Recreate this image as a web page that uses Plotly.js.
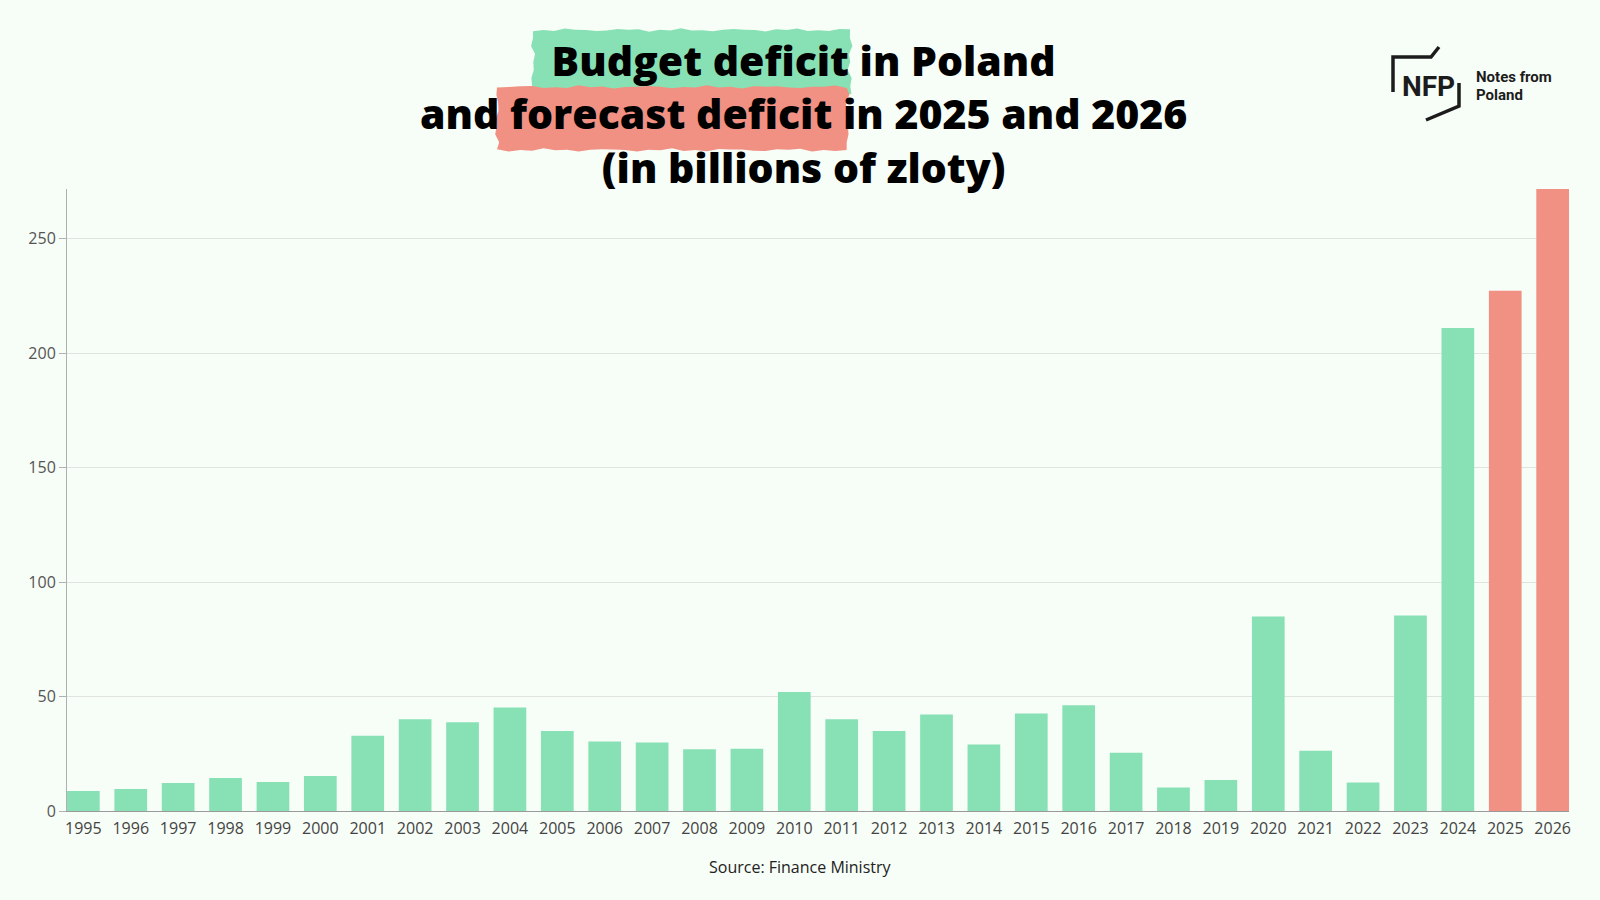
<!DOCTYPE html>
<html>
<head>
<meta charset="utf-8">
<script src="https://cdn.plot.ly/plotly-3.0.1.min.js"></script>
<style>
  html, body { margin: 0; padding: 0; background: #f7fdf7; }
  #chart { width: 1600px; height: 900px; }
</style>
</head>
<body>
<div id="chart"></div>
<script>
const years = ['1995', '1996', '1997', '1998', '1999', '2000', '2001', '2002', '2003', '2004',
  '2005', '2006', '2007', '2008', '2009', '2010', '2011', '2012', '2013', '2014',
  '2015', '2016', '2017', '2018', '2019', '2020', '2021', '2022', '2023', '2024',
  '2025', '2026'];

// actual deficit, billions of zloty
const actualYears = years.slice(0, 30);
const actualDeficit = [8.7, 9.6, 12.2, 14.4, 12.7, 15.3, 32.9, 40.1, 38.8, 45.2,
  34.9, 30.4, 29.9, 27.0, 27.2, 52.0, 40.1, 34.9, 42.1, 29.1,
  42.6, 46.2, 25.4, 10.3, 13.5, 85.0, 26.3, 12.4, 85.4, 211.0];

// forecast
const forecastYears = ['2025', '2026'];
const forecastDeficit = [227.3, 271.7];

const yTicks = [0, 50, 100, 150, 200, 250];

const GREEN = '#88e1b5';
const RED = '#f09183';
const W = 1600, H = 900;
const M = { l: 67, r: 31, t: 189, b: 89 };

// pixel -> paper coords (for the title decoration and logo)
const px = x => (x - M.l) / (W - M.l - M.r);
const py = y => (H - M.b - y) / (H - M.t - M.b);

// rough "brush stroke" rectangle behind the title words
function brushPath(x0, x1, y0, y1, k) {
  const pts = [];
  const n = 30;
  const wob = i => 1.8 * Math.sin(i * 2.3 + k) * Math.cos(i * 1.1 + k * 0.5);
  for (let i = 0; i <= n; i++) pts.push([x0 + (x1 - x0) * i / n, y0 + wob(i)]);
  for (let i = 1; i <= 8; i++) pts.push([x1 + 1.5 * wob(i + 20), y0 + (y1 - y0) * i / 8]);
  for (let i = n - 1; i >= 0; i--) pts.push([x0 + (x1 - x0) * i / n, y1 + wob(i + 40)]);
  for (let i = 7; i >= 1; i--) pts.push([x0 + 1.5 * wob(i + 60), y0 + (y1 - y0) * i / 8]);
  return 'M' + pts.map(p => px(p[0]).toFixed(5) + ',' + py(p[1]).toFixed(5)).join(' L') + ' Z';
}

const traces = [
  {
    type: 'bar',
    x: actualYears,
    y: actualDeficit,
    name: 'Budget deficit',
    marker: { color: GREEN, line: { width: 0 } },
    hovertemplate: '%{x}: %{y}<extra></extra>'
  },
  {
    type: 'bar',
    x: forecastYears,
    y: forecastDeficit,
    name: 'Forecast deficit',
    marker: { color: RED, line: { width: 0 } },
    hovertemplate: '%{x}: %{y}<extra></extra>'
  }
];

const titleFont = { family: 'Open Sans, sans-serif', size: 41, color: '#000', weight: 800 };
const logoFont = { family: 'Liberation Sans Narrow, Roboto, sans-serif', color: '#1c1c1c', weight: 700 };
const logoLine = { color: '#1c1c1c', width: 3.5 };

const layout = {
  width: W,
  height: H,
  margin: M,
  paper_bgcolor: '#f7fdf7',
  plot_bgcolor: '#f7fdf7',
  showlegend: false,
  barmode: 'overlay',
  bargap: 0.31,
  font: { family: 'Open Sans, sans-serif', color: '#444' },
  xaxis: {
    type: 'category',
    categoryorder: 'array',
    categoryarray: years,
    range: [-0.345, years.length - 1 + 0.345],
    showline: true,
    linecolor: '#9a9a9a',
    linewidth: 1,
    showgrid: false,
    zeroline: false,
    ticks: '',
    ticklabelstandoff: 3,
    tickfont: { size: 16, color: '#444' },
    fixedrange: true
  },
  yaxis: {
    range: [0, 271.7],
    tickvals: yTicks,
    showline: true,
    linecolor: '#b0b0b0',
    linewidth: 1,
    gridcolor: '#e0e3e0',
    gridwidth: 1,
    zeroline: false,
    ticks: 'outside',
    ticklen: 7,
    tickcolor: '#b0b0b0',
    tickfont: { size: 16, color: '#555' },
    fixedrange: true
  },
  shapes: [
    { type: 'path', xref: 'paper', yref: 'paper', layer: 'below', line: { width: 0 },
      fillcolor: GREEN, path: brushPath(533, 850, 30, 94, 1) },
    { type: 'path', xref: 'paper', yref: 'paper', layer: 'below', line: { width: 0 },
      fillcolor: RED, path: brushPath(497, 847, 87, 150, 4) },
    // NFP logo brackets
    { type: 'path', xref: 'paper', yref: 'paper', line: logoLine,
      path: `M${px(1393)},${py(92)} L${px(1393)},${py(57)} L${px(1431)},${py(57)} L${px(1439)},${py(47)}` },
    { type: 'path', xref: 'paper', yref: 'paper', line: logoLine,
      path: `M${px(1459)},${py(83)} L${px(1459)},${py(106)} L${px(1426)},${py(120)}` }
  ],
  annotations: [
    { text: 'Budget deficit in Poland<br>and forecast deficit in 2025 and 2026<br>(in billions of zloty)',
      x: px(803), y: py(114), xref: 'paper', yref: 'paper',
      xanchor: 'center', yanchor: 'middle', align: 'center', showarrow: false, font: titleFont },
    { text: 'NFP', x: px(1428), y: py(86), xref: 'paper', yref: 'paper',
      xanchor: 'center', yanchor: 'middle', showarrow: false,
      font: Object.assign({ size: 28 }, logoFont) },
    { text: 'Notes from', x: px(1474), y: py(77), xref: 'paper', yref: 'paper',
      xanchor: 'left', yanchor: 'middle', showarrow: false,
      font: Object.assign({ size: 15 }, logoFont) },
    { text: 'Poland', x: px(1474), y: py(95), xref: 'paper', yref: 'paper',
      xanchor: 'left', yanchor: 'middle', showarrow: false,
      font: Object.assign({ size: 15 }, logoFont) },
    { text: 'Source: Finance Ministry', x: px(800), y: py(867), xref: 'paper', yref: 'paper',
      xanchor: 'center', yanchor: 'middle', showarrow: false,
      font: { family: 'Open Sans, sans-serif', size: 16, color: '#222' } }
  ]
};

Plotly.newPlot('chart', traces, layout, { displayModeBar: false, staticPlot: true });
</script>
</body>
</html>
